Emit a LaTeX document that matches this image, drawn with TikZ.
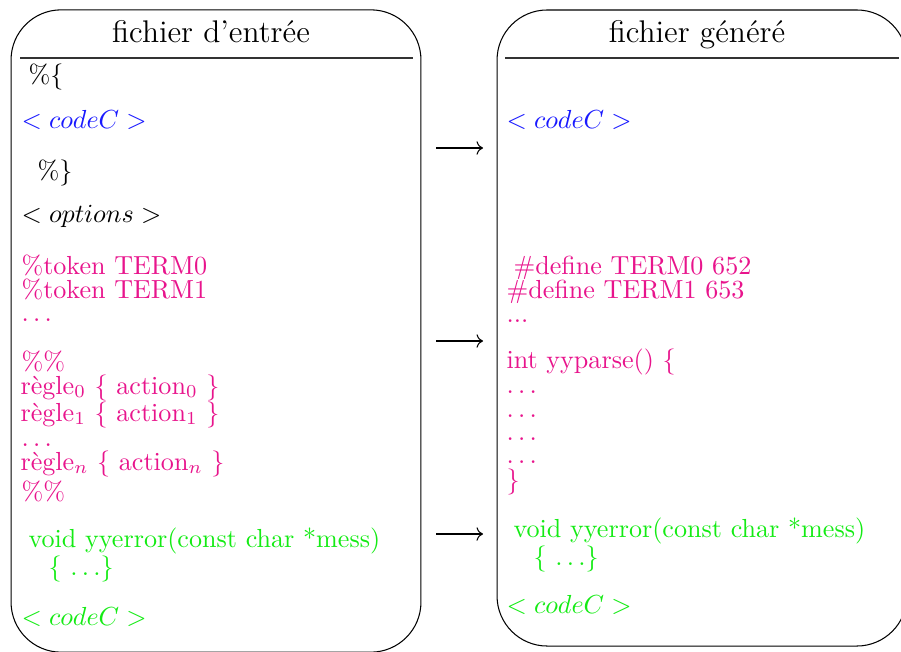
\documentclass[tikz,border=0pt]{standalone}
\usetikzlibrary{arrows.meta}
\definecolor{ccode}{RGB}{25,25,255}
\definecolor{yacc}{RGB}{232,20,140}
\definecolor{user}{RGB}{20,235,20}
\begin{document}
\begin{tikzpicture}[x=0.383pt,y=-0.383pt,
  filebox/.style={draw, line width=0.4pt, rounded corners=19.2pt, inner sep=0pt, minimum width=157pt},
  ln/.style={anchor=base west, inner sep=0pt, font=\fontsize{10}{12}\selectfont},
  hd/.style={anchor=base, inner sep=0pt, font=\large},
  rule/.style={line width=0.4pt, draw=black!80},
  flow/.style={-{Computer Modern Rightarrow}, line width=0.4pt}]
\useasboundingbox (0,0) rectangle (901,652);
\clip (0,0) rectangle (901,652);

% the two files
\node[filebox, minimum height=246pt] (src) at (216,331) {};
\node[filebox, minimum height=243.6pt] (gen) at (702,328) {};

% headers
\node[hd] (srct) at (211,42) {fichier d’entrée};
\node[hd] (gent) at (697,42) {fichier généré};
\draw[rule] (20,58) -- (413,58);
\draw[rule] (505,58) -- (899,58);

% input file
\node[ln] (s1) at (28,83) {\%\{};
\node[ln, text=ccode] (s2) at (21,128) {$<codeC>$};
\node[ln] (s3) at (37,179) {\%\}};
\node[ln] (s4) at (21,222) {$<options>$};
\node[ln, text=yacc] (s5) at (21,274) {\%token TERM0};
\node[ln, text=yacc] (s6) at (21,298) {\%token TERM1};
\node[ln, text=yacc] (s7) at (21,321) {$\ldots$};
\node[ln, text=yacc] (s8) at (21,370) {\%\%};
\node[ln, text=yacc] (s9) at (20,394) {règle$_0$ \{ action$_0$ \}};
\node[ln, text=yacc] (s10) at (20,421) {règle$_1$ \{ action$_1$ \}};
\node[ln, text=yacc] (s11) at (21,446) {$\ldots$};
\node[ln, text=yacc] (s12) at (20,470) {règle$_n$ \{ action$_n$ \}};
\node[ln, text=yacc] (s13) at (21,500) {\%\%};
\node[ln, text=user] (s14) at (28,547) {void yyerror(const char *mess)};
\node[ln, text=user] (s15) at (48,575) {\{ $\ldots$\}};
\node[ln, text=user] (s16) at (21,625) {$<codeC>$};

% generated file
\node[ln, text=ccode] (g1) at (506,128) {$<codeC>$};
\node[ln, text=yacc] (g2) at (513,274) {\#define TERM0 652};
\node[ln, text=yacc] (g3) at (506,298) {\#define TERM1 653};
\node[ln, text=yacc] (g4) at (506,322) {...};
\node[ln, text=yacc] (g5) at (506,368) {int yyparse() \{};
\node[ln, text=yacc] (g6) at (506,393) {$\ldots$};
\node[ln, text=yacc] (g7) at (506,417) {$\ldots$};
\node[ln, text=yacc] (g8) at (506,440) {$\ldots$};
\node[ln, text=yacc] (g9) at (506,463) {$\ldots$};
\node[ln, text=yacc] (g10) at (506,488) {\}};
\node[ln, text=user] (g11) at (513,537) {void yyerror(const char *mess)};
\node[ln, text=user] (g12) at (533,565) {\{ $\ldots$\}};
\node[ln, text=user] (g13) at (506,613) {$<codeC>$};

% translation arrows
\coordinate (a1) at (436,148); \coordinate (b1) at (483,148);
\coordinate (a2) at (436,341); \coordinate (b2) at (483,341);
\coordinate (a3) at (436,534); \coordinate (b3) at (483,534);
\draw[flow] (a1) -- (b1);
\draw[flow] (a2) -- (b2);
\draw[flow] (a3) -- (b3);
\end{tikzpicture}
\end{document}
